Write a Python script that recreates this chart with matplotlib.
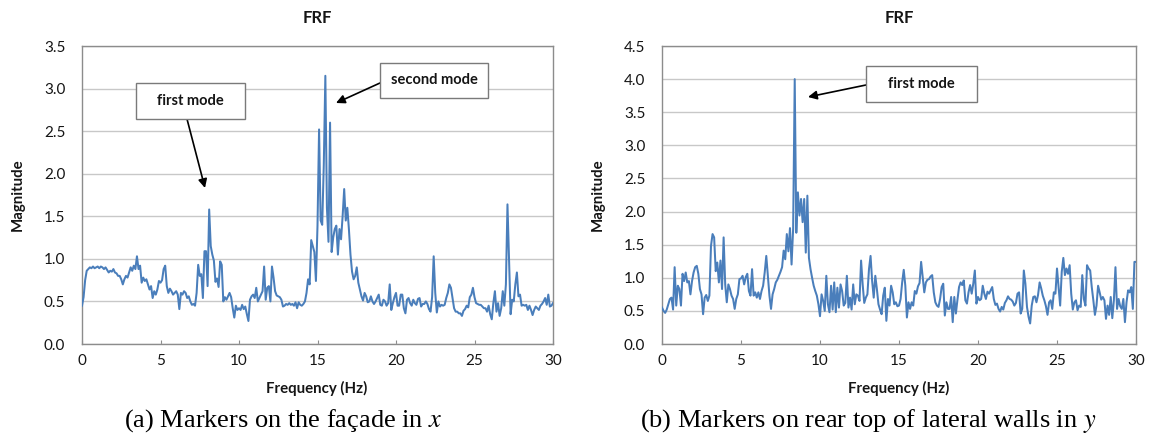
import numpy as np
import matplotlib
matplotlib.use("Agg")
import matplotlib.pyplot as plt
from matplotlib.patches import Rectangle, FancyArrowPatch
from matplotlib.transforms import Affine2D

# Frequency grid (Hz), 0.1 Hz resolution
freq = np.round(np.arange(301) * 0.1, 1)

# FRF magnitude, markers on the facade, x direction
facade_x = [
    0.45, 0.55, 0.75, 0.86, 0.88, 0.90, 0.89, 0.91, 0.89, 0.90,
    0.91, 0.89, 0.91, 0.90, 0.88, 0.90, 0.87, 0.84, 0.86, 0.85,
    0.88, 0.84, 0.83, 0.80, 0.80, 0.76, 0.70, 0.76, 0.80, 0.78,
    0.84, 0.90, 0.86, 0.92, 0.88, 1.03, 0.88, 0.92, 0.72, 0.78,
    0.74, 0.76, 0.70, 0.64, 0.68, 0.54, 0.62, 0.58, 0.64, 0.74,
    0.72, 0.75, 0.88, 0.92, 0.68, 0.60, 0.65, 0.62, 0.58, 0.60,
    0.62, 0.58, 0.41, 0.60, 0.58, 0.62, 0.60, 0.54, 0.56, 0.50,
    0.46, 0.47, 0.45, 0.60, 0.93, 0.80, 0.82, 0.54, 1.09, 1.09,
    0.68, 1.58, 1.15, 1.05, 0.98, 0.73, 0.77, 0.67, 0.97, 0.93,
    0.50, 0.55, 0.52, 0.56, 0.60, 0.55, 0.42, 0.31, 0.45, 0.40,
    0.42, 0.40, 0.46, 0.41, 0.44, 0.35, 0.27, 0.52, 0.56, 0.58,
    0.54, 0.66, 0.50, 0.54, 0.58, 0.62, 0.91, 0.52, 0.66, 0.68,
    0.50, 0.91, 0.78, 0.62, 0.57, 0.56, 0.55, 0.52, 0.44, 0.45,
    0.47, 0.46, 0.48, 0.46, 0.47, 0.45, 0.49, 0.42, 0.49, 0.46,
    0.45, 0.47, 0.50, 0.60, 0.76, 0.70, 1.22, 1.15, 1.08, 0.74,
    1.39, 2.52, 1.45, 1.40, 2.10, 3.15, 1.60, 1.20, 2.60, 1.08,
    1.25, 1.35, 1.39, 1.05, 1.35, 1.23, 1.50, 1.82, 1.45, 1.60,
    1.35, 1.05, 0.85, 0.76, 0.80, 0.90, 0.72, 0.64, 0.56, 0.51,
    0.60, 0.56, 0.49, 0.50, 0.56, 0.50, 0.47, 0.50, 0.54, 0.58,
    0.46, 0.45, 0.52, 0.50, 0.45, 0.48, 0.70, 0.40, 0.48, 0.55,
    0.60, 0.45, 0.45, 0.58, 0.58, 0.42, 0.36, 0.52, 0.54, 0.48,
    0.45, 0.52, 0.48, 0.46, 0.53, 0.54, 0.44, 0.47, 0.47, 0.50,
    0.47, 0.41, 0.38, 0.55, 1.03, 0.60, 0.37, 0.50, 0.44, 0.46,
    0.45, 0.46, 0.54, 0.60, 0.70, 0.66, 0.54, 0.42, 0.38, 0.38,
    0.36, 0.36, 0.33, 0.39, 0.41, 0.45, 0.43, 0.55, 0.58, 0.66,
    0.55, 0.48, 0.47, 0.46, 0.46, 0.44, 0.42, 0.42, 0.38, 0.45,
    0.35, 0.29, 0.48, 0.62, 0.38, 0.48, 0.33, 0.42, 0.62, 0.45,
    0.70, 1.64, 1.00, 0.35, 0.52, 0.50, 0.70, 0.84, 0.56, 0.58,
    0.45, 0.46, 0.45, 0.46, 0.40, 0.45, 0.40, 0.34, 0.40, 0.44,
    0.42, 0.40, 0.45, 0.47, 0.50, 0.54, 0.46, 0.58, 0.44, 0.45,
    0.48,
]

# FRF magnitude, markers on rear top of lateral walls, y direction
rear_y = [
    0.55, 0.50, 0.47, 0.52, 0.60, 0.68, 0.70, 0.52, 1.16, 0.58,
    0.88, 0.83, 0.58, 1.06, 0.95, 1.08, 0.93, 0.95, 0.75, 0.95,
    1.08, 1.16, 1.18, 1.06, 0.83, 0.75, 0.45, 0.70, 0.74, 0.65,
    0.73, 1.48, 1.66, 1.61, 1.10, 1.23, 0.93, 1.26, 0.83, 1.61,
    0.90, 0.63, 0.90, 0.83, 0.73, 0.68, 0.53, 0.68, 0.75, 0.98,
    0.99, 1.03, 0.90, 1.01, 1.06, 0.80, 0.73, 1.13, 0.73, 0.78,
    0.70, 0.78, 0.68, 0.80, 0.88, 1.08, 1.33, 1.03, 0.73, 0.53,
    0.75, 0.83, 0.93, 0.97, 1.03, 1.09, 1.16, 1.41, 1.28, 1.66,
    1.40, 1.75, 1.20, 1.74, 4.00, 1.68, 2.29, 1.94, 2.19, 1.84,
    2.19, 1.38, 2.24, 1.30, 1.13, 1.00, 0.88, 0.80, 0.73, 0.60,
    0.42, 0.75, 0.65, 0.50, 1.03, 0.60, 0.48, 0.88, 0.52, 0.93,
    0.48, 0.85, 0.55, 0.90, 0.80, 0.58, 0.62, 1.03, 0.55, 0.70,
    0.52, 0.90, 0.60, 0.75, 0.73, 0.65, 1.26, 0.90, 0.62, 0.70,
    0.75, 1.13, 1.33, 0.95, 0.70, 1.03, 0.83, 0.60, 0.52, 0.45,
    0.73, 0.85, 0.35, 0.68, 0.58, 0.88, 0.78, 0.60, 0.63, 0.57,
    0.58, 0.68, 0.93, 1.12, 0.88, 0.40, 0.63, 0.53, 0.63, 0.58,
    0.80, 0.76, 0.87, 0.92, 1.24, 1.01, 0.78, 0.93, 0.97, 0.98,
    1.02, 1.04, 0.78, 0.63, 0.58, 0.56, 0.68, 0.86, 0.91, 0.43,
    0.63, 0.53, 0.53, 0.71, 0.33, 0.71, 0.46, 0.67, 0.86, 0.93,
    0.89, 0.96, 0.66, 0.61, 0.78, 0.89, 0.76, 0.91, 1.11, 0.61,
    0.71, 0.66, 0.68, 0.88, 0.76, 0.68, 0.79, 0.76, 0.81, 0.86,
    0.68, 0.59, 0.61, 0.53, 0.49, 0.56, 0.52, 0.62, 0.66, 0.72,
    0.68, 0.67, 0.64, 0.58, 0.62, 0.76, 0.78, 0.46, 0.53, 1.11,
    0.91, 0.56, 0.41, 0.31, 0.58, 0.71, 0.72, 0.63, 0.74, 0.93,
    0.84, 0.73, 0.66, 0.57, 0.44, 0.63, 0.66, 0.53, 0.78, 0.76,
    1.14, 0.86, 0.58, 1.09, 1.30, 1.04, 1.14, 1.06, 1.19, 0.76,
    0.52, 0.63, 0.66, 0.51, 0.58, 0.56, 1.04, 0.68, 0.58, 1.19,
    1.14, 1.11, 0.86, 0.66, 0.44, 0.58, 0.88, 0.78, 0.67, 0.71,
    0.66, 0.38, 0.58, 0.44, 0.71, 0.39, 0.66, 1.16, 0.53, 0.68,
    0.57, 0.53, 0.68, 0.33, 0.63, 0.81, 0.78, 0.86, 0.53, 1.24,
    1.24,
]

x_ticks = [0, 5, 10, 15, 20, 25, 30]
y_ticks_a = [0.0, 0.5, 1.0, 1.5, 2.0, 2.5, 3.0, 3.5]
y_ticks_b = [0.0, 0.5, 1.0, 1.5, 2.0, 2.5, 3.0, 3.5, 4.0, 4.5]
panel_title = "FRF"
x_label = "Frequency (Hz)"
y_label = "Magnitude"
captions = [r"(a) Markers on the façade in $x$",
            r"(b) Markers on rear top of lateral walls in $y$"]

plt.rcParams["mathtext.fontset"] = "stix"
SANS = ["Lato", "DejaVu Sans"]
SERIF = ["Liberation Serif", "DejaVu Serif"]
LINE = "#4A7EBB"
GRID = "#C8C8C8"
FRAME = "#8C8C8C"
INK = "#151515"

W, H = 1150, 436
fig = plt.figure(figsize=(W / 100, H / 100), dpi=100)
# pixel coordinates with origin at top-left of the figure
PX = Affine2D().scale(1 / W, -1 / H).translate(0, 1) + fig.transFigure


def add_panel(x0, x1, y_top, y_bot):
    return fig.add_axes([x0 / W, 1 - y_bot / H, (x1 - x0) / W, (y_bot - y_top) / H])


def style_panel(ax, values, yticks):
    ax.plot(freq, values, color=LINE, lw=1.45, solid_joinstyle="round", zorder=3)
    ax.set_xlim(0, 30)
    ax.set_ylim(0, yticks[-1])
    ax.set_xticks(x_ticks)
    ax.set_yticks(yticks)
    ax.set_yticklabels([f"{v:.1f}" for v in yticks])
    ax.grid(axis="y", color=GRID, lw=1.0, zorder=0)
    ax.set_axisbelow(True)
    for sp in ax.spines.values():
        sp.set_color(FRAME)
        sp.set_linewidth(1.0)
    ax.tick_params(axis="x", direction="in", length=3, color=FRAME, pad=7,
                   labelsize=11, labelcolor=INK)
    ax.tick_params(axis="y", length=0, pad=12, labelsize=11, labelcolor=INK)
    for lab in ax.get_xticklabels() + ax.get_yticklabels():
        lab.set_family(SANS)


def callout(text, box, tail, head, size):
    (bx0, by0, bx1, by1) = box
    fig.patches.append(Rectangle((bx0, by0), bx1 - bx0, by1 - by0, transform=PX,
                                 facecolor="white", edgecolor="#7A7A7A", lw=1.0,
                                 zorder=6))
    fig.text((bx0 + bx1) / 2 / W, 1 - (by0 + by1) / 2 / H, text, ha="center",
             va="center", family=SANS, fontweight="bold", fontsize=size,
             color=INK, zorder=7)
    fig.add_artist(FancyArrowPatch(
        tail, head, transform=PX, arrowstyle="-|>", mutation_scale=13,
        color="black", lw=1.2, shrinkA=0, shrinkB=0, zorder=6))


ax_a = add_panel(82, 553, 46, 344)
ax_b = add_panel(662, 1136, 46, 344)
style_panel(ax_a, facade_x, y_ticks_a)
style_panel(ax_b, rear_y, y_ticks_b)

for cx, mx in ((317, 18), (899, 598)):
    fig.text(cx / W, 1 - 18 / H, panel_title, ha="center", va="center",
             family=SANS, fontweight="bold", fontsize=12, color=INK)
    fig.text(cx / W, 1 - 388 / H, x_label, ha="center", va="center",
             family=SANS, fontweight="bold", fontsize=10.8, color=INK)
    fig.text(mx / W, 1 - 195 / H, y_label, ha="center", va="center",
             rotation=90, family=SANS, fontweight="bold", fontsize=10.8, color=INK)

fig.text(283 / W, 1 - 421 / H, captions[0], ha="center", va="center",
         family=SERIF, fontsize=19)
fig.text(868 / W, 1 - 421 / H, captions[1], ha="center", va="center",
         family=SERIF, fontsize=19)

callout("first mode", (136, 83, 245, 119), (187, 119), (205, 188), 10.5)
callout("second mode", (380, 63, 488, 98), (380, 83), (336, 103), 10.5)
callout("first mode", (866, 66, 977, 102), (866, 85), (808, 97), 10.5)

fig.savefig("out.png", dpi=100, facecolor="white")
